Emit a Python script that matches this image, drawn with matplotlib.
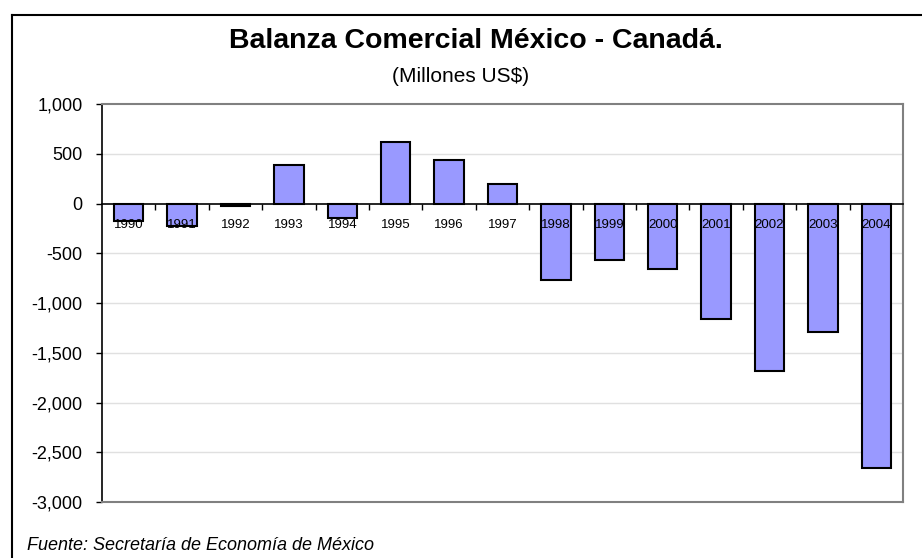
# Balanza comercial Mexico - Canada, bar chart

import matplotlib.pyplot as plt
from matplotlib.lines import Line2D
from matplotlib.ticker import FuncFormatter, MultipleLocator

plt.rcParams['font.family'] = ['Liberation Sans', 'DejaVu Sans']

years = ['1990', '1991', '1992', '1993', '1994', '1995', '1996', '1997',
         '1998', '1999', '2000', '2001', '2002', '2003', '2004']
balance = [-175, -225, -30, 388, -148, 615, 435, 195,
           -771, -566, -660, -1160, -1680, -1290, -2660]

fig = plt.figure(figsize=(9.22, 5.58), dpi=100)
ax = fig.add_axes([102 / 922, 1 - 502 / 558, 801 / 922, 398 / 558])

x = list(range(len(years)))
ax.bar(x, balance, width=0.55, color='#9999FF', edgecolor='black',
       linewidth=1.5, zorder=2)

ax.set_xlim(-0.5, len(years) - 0.5)
ax.set_ylim(-3000, 1000)
ax.yaxis.set_major_locator(MultipleLocator(500))
ax.yaxis.set_major_formatter(FuncFormatter(lambda v, p: f'{int(v):,}'))

# light gridlines behind the bars (year labels must stay on top)
for t in ax.get_yticks():
    if -3000 < t < 1000 and t != 0:
        ax.axhline(t, color='#E0E0E0', linewidth=1, zorder=0)

# x axis sits on the zero line, labels drawn over the bars
ax.spines['bottom'].set_position(('data', 0))
ax.spines['bottom'].set_color('black')
ax.spines['bottom'].set_linewidth(1.2)
ax.spines['bottom'].set_zorder(3)
ax.xaxis.set_zorder(4)
ax.set_xticks(x)
ax.set_xticklabels(years, fontsize=9.5)
ax.set_xticks([i + 0.5 for i in x[:-1]], minor=True)
ax.tick_params(axis='x', which='major', length=0, pad=11)
ax.tick_params(axis='x', which='minor', length=4, width=1, direction='out')

ax.tick_params(axis='y', length=4, width=1, direction='out', pad=10,
               labelsize=13)
ax.spines['left'].set_color('black')
ax.spines['left'].set_linewidth(1.2)
for s in ['top', 'right']:
    ax.spines[s].set_color('#808080')
    ax.spines[s].set_linewidth(1.5)
ax.axhline(-3000, color='#808080', linewidth=1.5, clip_on=False, zorder=3)

# outer frame of the chart
fig.add_artist(Line2D([12 / 922, 1.0], [1 - 15 / 558, 1 - 15 / 558],
                      color='black', linewidth=1.5))
fig.add_artist(Line2D([12 / 922, 12 / 922], [0, 1 - 15 / 558],
                      color='black', linewidth=1.5))

fig.text(0.516, 1 - 41 / 558, 'Balanza Comercial México - Canadá.',
         ha='center', va='center', fontsize=20.5, fontweight='bold')
fig.text(461 / 922, 1 - 77 / 558, '(Millones US$)', ha='center', va='center',
         fontsize=15)
fig.text(27 / 922, 1 - 545 / 558, 'Fuente: Secretaría de Economía de México',
         ha='left', va='center', fontsize=13, fontstyle='italic')

fig.savefig('out.png', dpi=100)
